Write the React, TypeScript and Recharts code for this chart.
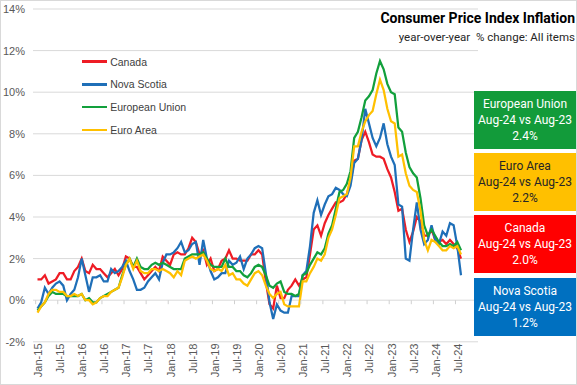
import React from 'react';
import { LineChart, Line, XAxis, YAxis, CartesianGrid, Legend } from 'recharts';

const monthNames = ['Jan', 'Feb', 'Mar', 'Apr', 'May', 'Jun', 'Jul', 'Aug', 'Sep', 'Oct', 'Nov', 'Dec'];
const yearLabels = ['15', '16', '17', '18', '19', '20', '21', '22', '23', '24'];
const lastMonthCount = 8; // data through Aug-24

const canada = [
  1.0, 1.0, 1.2, 0.8, 0.9, 1.0, 1.3, 1.3, 1.0, 1.0, 1.4, 1.6,
  2.0, 1.4, 1.3, 1.7, 1.5, 1.5, 1.3, 1.1, 1.3, 1.5, 1.2, 1.5,
  2.1, 2.0, 1.6, 1.6, 1.3, 1.0, 1.2, 1.4, 1.6, 1.4, 2.1, 1.9,
  1.7, 2.2, 2.3, 2.2, 2.2, 2.5, 3.0, 2.8, 2.2, 2.4, 1.7, 2.0,
  1.4, 1.5, 1.9, 2.0, 2.4, 2.0, 2.0, 1.9, 1.9, 1.9, 2.2, 2.2,
  2.4, 2.2, 0.9, -0.2, -0.4, 0.7, 0.1, 0.1, 0.5, 0.7, 1.0, 0.7,
  1.0, 1.1, 2.2, 3.4, 3.6, 3.1, 3.7, 4.1, 4.4, 4.7, 4.7, 4.8,
  5.1, 5.7, 6.7, 6.8, 7.7, 8.1, 7.6, 7.0, 6.9, 6.9, 6.8, 6.3,
  5.9, 5.2, 4.3, 4.4, 3.4, 2.8, 3.3, 4.0, 3.8, 3.1, 3.1, 3.4,
  2.9, 2.8, 2.9, 2.7, 2.9, 2.7, 2.5, 2.0,
];

const novaScotia = [
  -0.4, -0.1, 0.6, 0.3, 0.6, 0.8, 0.9, 0.7, 0.0, 0.3, 0.5, 1.1,
  2.0, 1.2, 0.4, 1.1, 1.1, 1.2, 0.9, 0.9, 1.5, 1.3, 1.4, 1.6,
  1.9, 1.4, 1.0, 0.5, 0.5, 0.6, 0.9, 1.1, 1.3, 1.0, 1.8, 2.2,
  2.2, 2.3, 2.5, 2.8, 2.3, 2.4, 2.7, 2.8, 1.7, 2.9, 2.0, 1.4,
  1.0, 1.1, 1.3, 1.3, 1.9, 1.7, 1.8, 2.1, 1.5, 2.0, 2.2, 2.5,
  2.6, 2.5, 1.3, -0.1, -0.9, -0.2, -0.5, -0.6, -0.6, 0.2, 0.2, 0.2,
  1.2, 1.4, 2.6, 4.2, 4.8, 4.1, 4.6, 5.0, 5.1, 5.4, 5.3, 5.1,
  5.0, 5.5, 6.6, 6.8, 7.7, 9.2, 8.5, 7.8, 7.4, 7.8, 8.5, 7.5,
  6.9, 6.5, 4.6, 4.5, 2.0, 1.9, 3.4, 4.7, 3.4, 2.7, 2.9, 3.6,
  2.9, 2.7, 3.3, 3.1, 3.7, 3.6, 2.6, 1.2,
];

const europeanUnion = [
  -0.5, -0.3, -0.1, 0.2, 0.4, 0.3, 0.3, 0.3, 0.2, 0.2, 0.2, 0.2,
  0.3, 0.0, 0.1, -0.1, -0.1, 0.1, 0.2, 0.3, 0.4, 0.5, 0.6, 1.2,
  1.7, 2.0, 1.6, 2.0, 1.6, 1.5, 1.5, 1.7, 1.8, 1.7, 1.8, 1.7,
  1.6, 1.5, 1.5, 1.5, 2.0, 2.1, 2.2, 2.2, 2.2, 2.3, 2.0, 1.7,
  1.6, 1.6, 1.6, 2.0, 1.6, 1.6, 1.4, 1.4, 1.2, 1.1, 1.3, 1.6,
  1.7, 1.6, 1.2, 0.7, 0.6, 0.8, 0.9, 0.4, 0.3, 0.3, 0.2, 0.3,
  1.2, 1.3, 1.7, 2.0, 2.3, 2.2, 2.5, 3.2, 3.6, 4.4, 5.2, 5.3,
  5.6, 6.2, 7.8, 8.1, 8.8, 9.6, 9.8, 10.1, 10.9, 11.5, 11.1, 10.4,
  10.0, 9.9, 8.3, 8.1, 7.1, 6.4, 6.1, 5.9, 4.9, 3.6, 3.1, 3.4,
  3.1, 2.8, 2.6, 2.6, 2.7, 2.6, 2.8, 2.4,
];

const euroArea = [
  -0.6, -0.3, -0.1, 0.3, 0.5, 0.5, 0.4, 0.4, 0.2, 0.2, 0.3, 0.2,
  0.3, 0.0, 0.0, -0.2, -0.1, 0.1, 0.2, 0.2, 0.4, 0.5, 0.6, 1.1,
  1.7, 2.0, 1.5, 1.9, 1.4, 1.3, 1.3, 1.5, 1.5, 1.4, 1.5, 1.4,
  1.3, 1.1, 1.4, 1.2, 1.9, 2.0, 2.1, 2.0, 2.1, 2.2, 1.9, 1.5,
  1.4, 1.5, 1.4, 1.7, 1.2, 1.3, 1.0, 1.0, 0.8, 0.7, 1.0, 1.3,
  1.4, 1.2, 0.7, 0.3, 0.1, 0.3, 0.4, -0.2, -0.3, -0.3, -0.3, -0.3,
  0.9, 0.9, 1.3, 1.6, 2.0, 1.9, 2.2, 3.0, 3.4, 4.1, 4.9, 5.0,
  5.1, 5.9, 7.4, 7.4, 8.1, 8.6, 8.9, 9.1, 9.9, 10.6, 10.1, 9.2,
  8.6, 8.5, 6.9, 7.0, 6.1, 5.5, 5.3, 5.2, 4.3, 2.9, 2.4, 2.9,
  2.8, 2.6, 2.4, 2.4, 2.6, 2.5, 2.6, 2.2,
];

const yTicks = [-2, 0, 2, 4, 6, 8, 10, 12, 14];
const seriesNames = ['Canada', 'Nova Scotia', 'European Union', 'Euro Area'];
const seriesColors = ['#EE1C25', '#1F6FB8', '#12A03C', '#FFC000'];
const comparisonLabel = 'Aug-24 vs Aug-23';
const titleText = 'Consumer Price Index Inflation';
const subtitleText = 'year-over-year  % change: All items';

const categories: string[] = [];
yearLabels.forEach((yr, yi) => {
  const count = yi === yearLabels.length - 1 ? lastMonthCount : 12;
  for (let i = 0; i < count; i++) categories.push(`${monthNames[i]}-${yr}`);
});

const data = categories.map((label, i) => ({
  label,
  canada: canada[i],
  novaScotia: novaScotia[i],
  europeanUnion: europeanUnion[i],
  euroArea: euroArea[i],
}));

const W = 577;
const H = 385;
const M_TOP = 9;
const M_RIGHT = 99;
const Y_AXIS_W = 33;
const X_AXIS_H = 43.2;
const PAD_L = 4.5;
const PAD_R = 17;
const PLOT_H = H - M_TOP - X_AXIS_H;
const STEP = (W - M_RIGHT - PAD_R - (Y_AXIS_W + PAD_L)) / (categories.length - 1);
const Y_MIN = -2;
const Y_MAX = 14;
const ZERO_Y = M_TOP + (PLOT_H * (Y_MAX - 0)) / (Y_MAX - Y_MIN);

const axisFont = '"Liberation Sans", Arial, sans-serif';

function XTick(props: any) {
  const { x, y, payload } = props;
  return (
    <g>
      <line x1={x - STEP / 2} x2={x - STEP / 2} y1={ZERO_Y} y2={ZERO_Y + 4} stroke="#d0d0d0" strokeWidth={1} />
      <text
        transform={`translate(${x + 4.5},${y + 1.7}) rotate(-90)`}
        textAnchor="end"
        fontSize={11}
        fill="#595959"
        fontFamily={axisFont}
      >
        {payload.value}
      </text>
    </g>
  );
}

function LegendContent(props: any) {
  const { payload } = props;
  const items = [...(payload || [])].sort(
    (a: any, b: any) => seriesNames.indexOf(a.value) - seriesNames.indexOf(b.value)
  );
  return (
    <div style={{ fontFamily: axisFont, fontSize: 10.5, color: '#404040' }}>
      {items.map((entry: any) => (
        <div key={entry.value} style={{ display: 'flex', alignItems: 'center', height: 22.75 }}>
          <span style={{ display: 'inline-block', width: 25, height: 2.5, background: entry.color, marginRight: 3.5 }} />
          <span>{entry.value}</span>
        </div>
      ))}
    </div>
  );
}

const boxes = [
  { name: seriesNames[2], values: europeanUnion, bg: '#129B3A', fg: '#FFFFFF', top: 91 },
  { name: seriesNames[3], values: euroArea, bg: '#FFC000', fg: '#262626', top: 153 },
  { name: seriesNames[0], values: canada, bg: '#FF0000', fg: '#FFFFFF', top: 215 },
  { name: seriesNames[1], values: novaScotia, bg: '#0070C0', fg: '#FFFFFF', top: 278 },
];

export default function App() {
  return (
    <div style={{ position: 'absolute', left: 0, top: 0, width: W, height: H, background: '#fff', overflow: 'hidden' }}>
      <LineChart
        width={W}
        height={H}
        data={data}
        margin={{ top: M_TOP, right: M_RIGHT, bottom: 0, left: 0 }}
      >
        <CartesianGrid horizontal vertical={false} stroke="#d9d9d9" strokeWidth={1} />
        <XAxis
          dataKey="label"
          type="category"
          interval={5}
          height={X_AXIS_H}
          padding={{ left: PAD_L, right: PAD_R }}
          axisLine={false}
          tickLine={false}
          tickSize={0}
          tickMargin={0}
          tick={<XTick />}
        />
        <YAxis
          type="number"
          domain={[Y_MIN, Y_MAX]}
          ticks={yTicks}
          width={Y_AXIS_W}
          axisLine={false}
          tickLine={false}
          tickSize={0}
          tickMargin={8}
          tickFormatter={(v: number) => `${v}%`}
          tick={{ fontSize: 11, fill: '#595959', fontFamily: axisFont }}
          interval={0}
        />
        <Legend
          layout="vertical"
          align="center"
          verticalAlign="middle"
          content={<LegendContent />}
          wrapperStyle={{ left: 81.7, top: 50.3, width: 160, height: 92 }}
        />
        <Line type="linear" dataKey="canada" name={seriesNames[0]} stroke={seriesColors[0]} strokeWidth={2.25} dot={false} isAnimationActive={false} />
        <Line type="linear" dataKey="novaScotia" name={seriesNames[1]} stroke={seriesColors[1]} strokeWidth={2.25} dot={false} isAnimationActive={false} />
        <Line type="linear" dataKey="europeanUnion" name={seriesNames[2]} stroke={seriesColors[2]} strokeWidth={2.25} dot={false} isAnimationActive={false} />
        <Line type="linear" dataKey="euroArea" name={seriesNames[3]} stroke={seriesColors[3]} strokeWidth={2.25} dot={false} isAnimationActive={false} />
      </LineChart>

      <div style={{ position: 'absolute', right: 2, top: 9, textAlign: 'right', fontFamily: 'Roboto, sans-serif', whiteSpace: 'pre' }}>
        <div style={{ fontSize: 14, fontWeight: 700, color: '#000', lineHeight: '19px' }}>{titleText}</div>
        <div style={{ fontSize: 11.5, color: '#262626', lineHeight: '18px' }}>{subtitleText}</div>
      </div>

      {boxes.map((b) => (
        <div
          key={b.name}
          style={{
            position: 'absolute',
            left: 474,
            top: b.top,
            width: 102,
            height: 58,
            background: b.bg,
            color: b.fg,
            fontFamily: 'Roboto, sans-serif',
            fontSize: 12,
            lineHeight: '16px',
            textAlign: 'center',
            paddingTop: 5,
            boxSizing: 'border-box',
          }}
        >
          <div>{b.name}</div>
          <div>{comparisonLabel}</div>
          <div>{`${b.values[b.values.length - 1].toFixed(1)}%`}</div>
        </div>
      ))}

      <div style={{ position: 'absolute', left: 0, top: 0, width: W, height: H, boxSizing: 'border-box', border: '1px solid #d9d9d9', pointerEvents: 'none' }} />
    </div>
  );
}
